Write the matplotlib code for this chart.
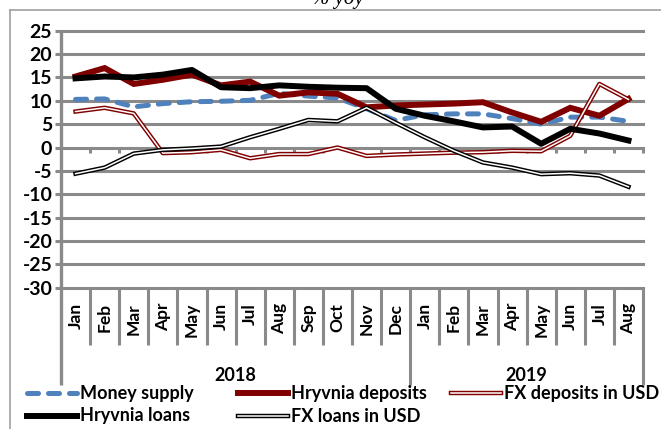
import matplotlib
matplotlib.use("Agg")
import matplotlib.pyplot as plt
from matplotlib.lines import Line2D

# data (% yoy)
months = ['Jan', 'Feb', 'Mar', 'Apr', 'May', 'Jun', 'Jul', 'Aug', 'Sep', 'Oct', 'Nov', 'Dec',
          'Jan', 'Feb', 'Mar', 'Apr', 'May', 'Jun', 'Jul', 'Aug']
years = ['2018', '2019']
year_len = [12, 8]

money_supply = [10.3, 10.4, 8.7, 9.4, 9.8, 9.9, 10.1, 11.6, 11.0, 10.6, 8.3, 5.8,
                7.0, 7.2, 7.2, 6.2, 5.0, 6.5, 6.5, 5.6]
hryvnia_deposits = [15.2, 17.0, 13.6, 14.5, 15.6, 13.3, 14.1, 11.1, 11.8, 11.5, 8.6, 9.0,
                    9.2, 9.4, 9.7, 7.5, 5.5, 8.5, 6.8, 10.4]
fx_deposits = [7.7, 8.5, 7.3, -1.2, -1.0, -0.5, -2.3, -1.4, -1.4, 0.0, -1.8, -1.5,
               -1.3, -1.1, -1.0, -0.7, -0.8, 2.5, 13.6, 10.3]
hryvnia_loans = [14.8, 15.2, 15.0, 15.6, 16.6, 12.9, 12.7, 13.3, 13.0, 12.8, 12.7, 8.3,
                 6.8, 5.6, 4.3, 4.5, 0.8, 4.0, 3.0, 1.5]
fx_loans = [-5.6, -4.3, -1.3, -0.5, -0.2, 0.2, 2.2, 4.0, 5.9, 5.6, 8.5, 5.3,
            2.2, -0.7, -3.2, -4.3, -5.7, -5.5, -6.0, -8.4]

W, H = 661, 429
GRID = '#8a8a8a'
BLUE = '#4F81BD'
RED = '#800000'
FONT = 'Lato'

plt.rcParams['font.family'] = FONT


def fx(x):
    return x / W


def fy(y):
    return 1 - y / H


fig = plt.figure(figsize=(W / 100, H / 100), dpi=100)
ax = fig.add_axes([fx(61), fy(287.7), fx(643) - fx(61), fy(30.7) - fy(287.7)])

x = list(range(len(months)))
ax.set_xlim(-0.5, len(months) - 0.5)
ax.set_ylim(-30, 25)
yticks = list(range(-30, 30, 5))
ax.set_yticks(yticks)
ax.set_yticklabels([str(t) for t in yticks], fontsize=14, fontweight='bold')
ax.tick_params(axis='y', length=4.3, width=2.2, color=GRID, pad=2, direction='out')
ax.set_xticks(x)
ax.set_xticklabels(months, rotation=90, fontsize=12.5, fontweight='bold')
ax.tick_params(axis='x', length=0, pad=11)
for s in ['top', 'right', 'bottom', 'left']:
    ax.spines[s].set_visible(False)

# gridlines
for t in yticks:
    ax.axhline(t, color=GRID, lw=2.2, zorder=1, clip_on=False)

# left axis line running down through the category area
trans = ax.get_xaxis_transform()
ax.plot([-0.5, -0.5], [1.0, -0.378], transform=trans, color=GRID, lw=2.4,
        clip_on=False, zorder=2, solid_capstyle='butt')

# category separators below the plot
for b in range(1, len(months) + 1):
    xb = b - 0.5
    bottom = -0.378 if b in (12, 20) else -0.223
    ax.plot([xb, xb], [0, bottom], transform=trans, color=GRID, lw=2.2,
            clip_on=False, zorder=2, solid_capstyle='butt')
    # small ticks on the zero line
    ax.plot([xb, xb], [0, -1.2], color=GRID, lw=2.2, zorder=1.5,
            clip_on=False, solid_capstyle='butt')

# year labels
start = 0
for yr, n in zip(years, year_len):
    ax.text(start + (n - 1) / 2, -0.34, yr, transform=trans, ha='center', va='center',
            fontsize=13, fontweight='bold')
    start += n

# series
ax.plot(x, money_supply, color=BLUE, lw=3.6, linestyle=(0, (2.2, 2.0)),
        dash_capstyle='round', zorder=3)
ax.plot(x, hryvnia_deposits, color=RED, lw=4.3, zorder=4, solid_joinstyle='miter')
ax.plot(x, fx_deposits, color=RED, lw=3.2, zorder=5)
ax.plot(x, fx_deposits, color='white', lw=1.1, zorder=5.1)
ax.plot(x, hryvnia_loans, color='black', lw=4.3, zorder=6)
ax.plot(x, fx_loans, color='black', lw=3.2, zorder=7)
ax.plot(x, fx_loans, color='white', lw=1.1, zorder=7.1)

# legend drawn by hand
legend_items = [
    (27, 393, 'Money supply', dict(color=BLUE, lw=3.6, linestyle=(0, (2.2, 2.0)),
                                   dash_capstyle='round'), None),
    (238, 393, 'Hryvnia deposits', dict(color=RED, lw=4.3), None),
    (451, 393, 'FX deposits in USD', dict(color=RED, lw=3.2), 'white'),
    (27, 416, 'Hryvnia loans', dict(color='black', lw=4.3), None),
    (238, 416, 'FX loans in USD', dict(color='black', lw=3.2), 'white'),
]
for lx, ly, label, style, inner in legend_items:
    fig.add_artist(Line2D([fx(lx), fx(lx + 50)], [fy(ly), fy(ly)], **style))
    if inner:
        fig.add_artist(Line2D([fx(lx), fx(lx + 50)], [fy(ly), fy(ly)], color=inner, lw=1.1))
    fig.text(fx(lx + 53), fy(ly), label, ha='left', va='center', fontsize=13,
             fontweight='bold')

# outer frame and title (clipped at the top, as in the source)
fig.add_artist(Line2D([fx(10), fx(661)], [fy(10), fy(10)], color='#a0a0a0', lw=1.2))
fig.add_artist(Line2D([fx(10), fx(10)], [fy(10), fy(429)], color='#a0a0a0', lw=1.2))
fig.text(fx(338), fy(4), '% yoy', ha='center', va='baseline', fontsize=15,
         style='italic', family='Liberation Serif')

fig.savefig('out.png', dpi=100)
